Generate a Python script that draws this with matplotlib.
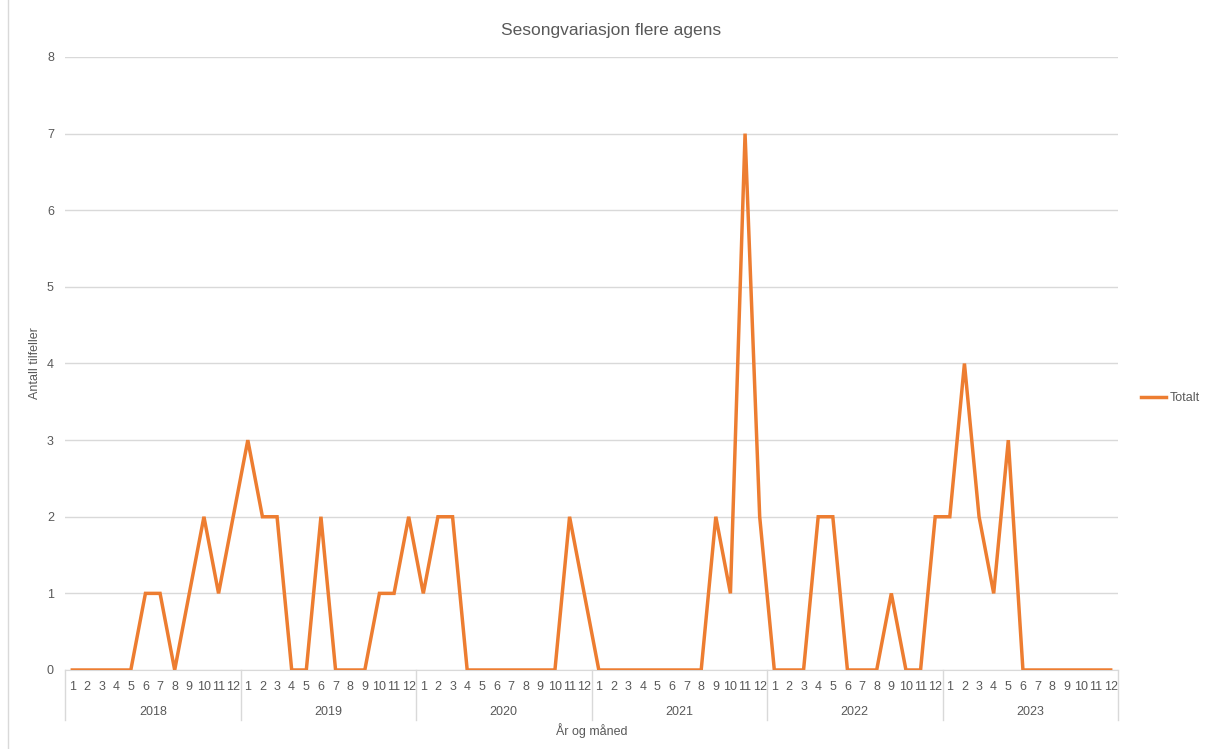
import numpy as np
import matplotlib.pyplot as plt
from matplotlib.lines import Line2D

plt.rcParams['font.family'] = ['Liberation Sans', 'DejaVu Sans']

years = ['2018', '2019', '2020', '2021', '2022', '2023']
months = [str(m) for m in range(1, 13)]

v2018 = [0, 0, 0, 0, 0, 1, 1, 0, 1, 2, 1, 2]
v2019 = [3, 2, 2, 0, 0, 2, 0, 0, 0, 1, 1, 2]
v2020 = [1, 2, 2, 0, 0, 0, 0, 0, 0, 0, 2, 1]
v2021 = [0, 0, 0, 0, 0, 0, 0, 0, 2, 1, 7, 2]
v2022 = [0, 0, 0, 2, 2, 0, 0, 0, 1, 0, 0, 2]
v2023 = [2, 4, 2, 1, 3, 0, 0, 0, 0, 0, 0, 0]

totalt = v2018 + v2019 + v2020 + v2021 + v2022 + v2023
x = np.arange(len(totalt))

orange = '#ED7D31'
txt = '#595959'
grid = '#D9D9D9'

fig = plt.figure(figsize=(12.08, 7.49), dpi=100)
ax = fig.add_axes([65/1208, 1-670/749, (1118-65)/1208, (670-57)/749])

ax.plot(x, totalt, color=orange, lw=2.5, solid_joinstyle='miter', label='Totalt', zorder=3)

ax.set_xlim(-0.5, len(totalt) - 0.5)
ax.set_ylim(0, 8)
ax.set_yticks(range(0, 9))
ax.yaxis.grid(True, color=grid, lw=1)
ax.set_axisbelow(True)
for s in ['top', 'right', 'left']:
    ax.spines[s].set_visible(False)
ax.spines['bottom'].set_color(grid)
ax.tick_params(axis='y', length=0, labelsize=9, labelcolor=txt, pad=8)
ax.set_xticks(x)
ax.set_xticklabels(months * len(years))
ax.tick_params(axis='x', length=0, labelsize=9, labelcolor=txt, pad=8)

# year separators and year labels
trans = ax.get_xaxis_transform()
sep_bottom = -(720 - 670) / 613
for i in range(len(years) + 1):
    ax.plot([i*12 - 0.5, i*12 - 0.5], [0, sep_bottom], color=grid, lw=1,
            transform=trans, clip_on=False)
for i, yr in enumerate(years):
    ax.text(i*12 + 5.5, -(712 - 670) / 613, yr, transform=trans, ha='center',
            va='center', fontsize=9, color=txt)

ax.text(0.5, -(731 - 670) / 613, 'År og måned', transform=ax.transAxes, ha='center',
        va='center', fontsize=9, color=txt)
fig.text(35/1208, 1-363/749, 'Antall tilfeller', rotation=90, ha='center', va='center',
         fontsize=9, color=txt)
fig.text(611/1208, 1-30/749, 'Sesongvariasjon flere agens', ha='center', va='center',
         fontsize=12.5, color=txt)

fig.add_artist(Line2D([8/1208, 8/1208], [0, 1], color=grid, lw=1))

fig.legend(handles=[Line2D([], [], color=orange, lw=2.5)], labels=['Totalt'],
           loc='center left', bbox_to_anchor=(1130/1208, 1-398/749), frameon=False,
           fontsize=9, labelcolor=txt, handlelength=2.0, handletextpad=0.3)

fig.savefig('out.png', dpi=100)
